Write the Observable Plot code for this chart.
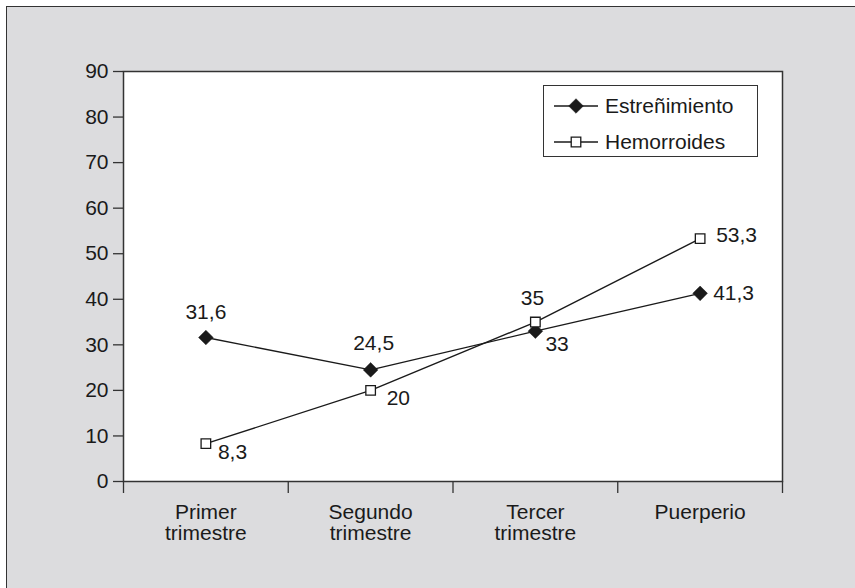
<!DOCTYPE html>
<html><head><meta charset="utf-8">
<script src="https://cdn.jsdelivr.net/npm/d3@7"></script>
<script src="https://cdn.jsdelivr.net/npm/@observablehq/plot@0.6"></script>
<style>
html,body{margin:0;padding:0;background:#fff;overflow:hidden;font-family:"Liberation Sans",Arial,Helvetica,sans-serif;}
#panel{position:absolute;left:6px;top:6px;width:870px;height:600px;background:#dcdcde;border-left:1.5px solid #333;border-top:1.5px solid #333;}
#chart{position:absolute;left:0;top:0;}
#legend{position:absolute;left:543px;top:85px;width:213px;height:70px;background:#fff;border:1.5px solid #333;}
</style></head><body>
<div id="panel"></div><div id="chart"></div><div id="legend"></div>
<script>
const periods = ["Primer\ntrimestre", "Segundo\ntrimestre", "Tercer\ntrimestre", "Puerperio"];
const estrenimiento = [31.6, 24.5, 33, 41.3];
const hemorroides = [8.3, 20, 35, 53.3];
const yTicks = [0, 10, 20, 30, 40, 50, 60, 70, 80, 90];
const seriesNames = ["Estreñimiento", "Hemorroides"];

const est = estrenimiento.map((v, i) => ({i, v}));
const hem = hemorroides.map((v, i) => ({i, v}));
const fmt = d => String(d.v).replace(".", ",");
const boundaries = d3.range(periods.length + 1).map(k => k - 0.5);
const ink = "#1a1a1a";
const fs = 21;

const chart = Plot.plot({
  width: 855, height: 588,
  marginLeft: 123, marginTop: 71, marginRight: 73, marginBottom: 107,
  style: {background: "transparent", color: ink, fontFamily: '"Liberation Sans", Arial, sans-serif', fontSize: fs + "px"},
  x: {domain: [-0.5, periods.length - 0.5]},
  y: {domain: [0, 90]},
  marks: [
    Plot.frame({fill: "white", stroke: "#333", strokeWidth: 1.5}),
    Plot.axisY({ticks: yTicks, tickSize: 10, tickPadding: 5, fontSize: fs, label: null, stroke: "#333", strokeWidth: 1.3}),
    Plot.axisX({ticks: boundaries, tickSize: 12, tickFormat: () => "", label: null, stroke: "#333", strokeWidth: 1.3}),
    Plot.text(periods, {x: (d, i) => i, text: d => d, frameAnchor: "bottom", lineAnchor: "top", dy: 23, lineHeight: 1.0, fontSize: fs, fill: ink}),
    Plot.line(est, {x: "i", y: "v", stroke: ink, strokeWidth: 1.4}),
    Plot.line(hem, {x: "i", y: "v", stroke: ink, strokeWidth: 1.4}),
    Plot.dot(est, {x: "i", y: "v", symbol: "diamond2", r: 6.6, fill: ink, stroke: ink, strokeWidth: 0.5}),
    Plot.dot(hem, {x: "i", y: "v", symbol: "square", r: 5.4, fill: "white", stroke: ink, strokeWidth: 1.3}),
    // Estreñimiento labels
    Plot.text(est, {filter: d => d.i === 0, x: "i", y: "v", text: fmt, dy: -25, fontSize: fs, fill: ink}),
    Plot.text(est, {filter: d => d.i === 1, x: "i", y: "v", text: fmt, dx: 3, dy: -27, fontSize: fs, fill: ink}),
    Plot.text(est, {filter: d => d.i === 2, x: "i", y: "v", text: fmt, dx: 10, dy: 13, textAnchor: "start", fontSize: fs, fill: ink}),
    Plot.text(est, {filter: d => d.i === 3, x: "i", y: "v", text: fmt, dx: 13, dy: 0, textAnchor: "start", fontSize: fs, fill: ink}),
    // Hemorroides labels
    Plot.text(hem, {filter: d => d.i === 0, x: "i", y: "v", text: fmt, dx: 12, dy: 9, textAnchor: "start", fontSize: fs, fill: ink}),
    Plot.text(hem, {filter: d => d.i === 1, x: "i", y: "v", text: fmt, dx: 16, dy: 8, textAnchor: "start", fontSize: fs, fill: ink}),
    Plot.text(hem, {filter: d => d.i === 2, x: "i", y: "v", text: fmt, dx: -3, dy: -24, fontSize: fs, fill: ink}),
    Plot.text(hem, {filter: d => d.i === 3, x: "i", y: "v", text: fmt, dx: 16, dy: -3, textAnchor: "start", fontSize: fs, fill: ink})
  ]
});
document.getElementById("chart").appendChild(chart);

// Legend
const lg = d3.select("#legend").append("svg").attr("width", 213).attr("height", 70).style("display", "block");
const rows = [
  {name: seriesNames[0], sym: d3.symbol(d3.symbolDiamond2, Math.PI * 6.6 * 6.6)(), fill: ink, sw: 0.5},
  {name: seriesNames[1], sym: d3.symbol(d3.symbolSquare, Math.PI * 5.4 * 5.4)(), fill: "white", sw: 1.3}
];
rows.forEach((r, k) => {
  const g = lg.append("g").attr("transform", `translate(0,${20 + k * 36})`);
  g.append("line").attr("x1", 10).attr("x2", 54).attr("stroke", ink).attr("stroke-width", 1.4);
  g.append("path").attr("d", r.sym).attr("transform", "translate(32,0)").attr("fill", r.fill).attr("stroke", ink).attr("stroke-width", r.sw);
  g.append("text").attr("x", 61).attr("dy", "0.35em").attr("font-size", fs).attr("fill", ink)
    .attr("font-family", '"Liberation Sans", Arial, sans-serif').text(r.name);
});
</script>
</body></html>
